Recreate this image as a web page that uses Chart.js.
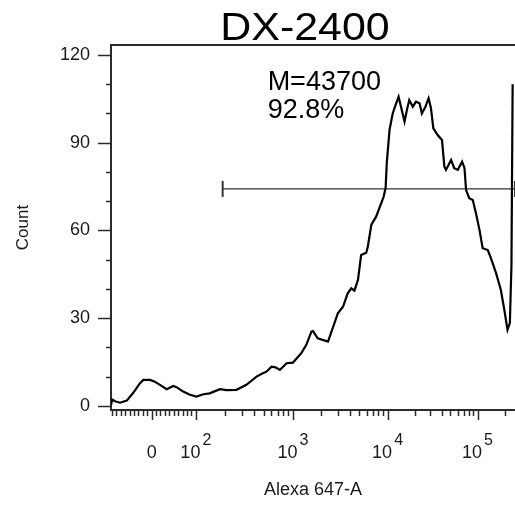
<!DOCTYPE html>
<html>
<head>
<meta charset="utf-8">
<script src="https://cdn.jsdelivr.net/npm/chart.js@4.4.0/dist/chart.umd.min.js"></script>
<style>
  html, body { margin: 0; padding: 0; background: #fff; overflow: hidden; }
  canvas { display: block; }
</style>
</head>
<body>
<canvas id="histChart" width="515" height="506"></canvas>
<script>
// histogram, x in display channels (0-1024 on the biexponential axis)
var channels = [0, 3, 10, 23, 40, 56, 73, 82, 99, 111, 124, 141, 158, 166, 183, 200, 217, 234, 250, 276,
  293, 318, 343, 369, 381, 394, 407, 417, 428, 445, 461, 482, 495, 508, 512, 524, 550, 562, 575, 588,
  600, 609, 617, 626, 634, 647, 651, 660, 672, 685, 691, 696, 699, 706, 714, 723, 729, 735, 744, 750,
  756, 765, 773, 782, 788, 797, 805, 811, 817, 828, 839, 845, 849, 862, 870, 879, 890, 896, 900, 908,
  917, 925, 934, 942, 955, 963, 976, 988, 997, 1005, 1011, 1015, 1018];
var counts = [0.3, 2.2, 1.6, 1.1, 1.8, 4.4, 7.7, 8.9, 8.9, 8.3, 7.2, 5.7, 6.8, 6.4, 4.9, 3.8, 3.2, 4.0, 4.3, 5.7,
  5.4, 5.5, 7.2, 10.0, 10.9, 11.7, 13.4, 13.2, 12.3, 14.6, 14.8, 18.0, 20.9, 25.4, 25.6, 23.1, 22.0, 26.6, 31.7, 33.9,
  38.5, 40.2, 39.4, 43.1, 51.6, 52.4, 54.5, 62.0, 64.7, 69.3, 71.5, 74.5, 83.0, 94.4, 100.0, 103.5, 105.7, 102.3, 97.2, 101.2,
  104.6, 102.3, 104.0, 103.5, 100.0, 102.3, 105.2, 101.8, 94.9, 92.6, 90.9, 81.8, 80.7, 84.1, 81.3, 80.7, 83.5, 81.3, 73.8, 71.0,
  70.4, 65.9, 60.2, 53.9, 53.3, 50.5, 45.4, 39.7, 32.8, 26.0, 28.3, 48.2, 110.0];

// x axis decades
var xMajorValues = [0, 100, 1000, 10000, 100000];
var xMajorChannels = [103, 215, 461, 701, 929];
var xMajorBase = ['0', '10', '10', '10', '10'];
var xMajorExp = ['', '2', '3', '4', '5'];

var yMajorTicks = [0, 30, 60, 90, 120];
var yMinorTicks = [10, 20, 40, 50, 70, 80, 100, 110];

// marker gate
var gateChannels = [283, 1024];
var gateCount = 74.2;
var gateText = ['M=43700', '92.8%'];

// linear around zero, log interpolation between the decade marks above 100
function valueToChannel(v) {
  if (v <= 100) return xMajorChannels[0] + v * (xMajorChannels[1] - xMajorChannels[0]) / 100;
  var lg = Math.log10(v);
  var k = Math.min(Math.floor(lg), 5);
  var i = k - 1;
  var c0 = xMajorChannels[i];
  var c1 = i + 1 < xMajorChannels.length ? xMajorChannels[i + 1] : c0 + (c0 - xMajorChannels[i - 1]);
  return c0 + (lg - k) * (c1 - c0);
}

var xMinorValues = [];
for (var n = -90; n <= 90; n += 10) if (n !== 0) xMinorValues.push(n);
for (var k = 2; k <= 4; k++) for (var m = 2; m <= 9; m++) xMinorValues.push(m * Math.pow(10, k));
xMinorValues.push(200000);

var histData = channels.map(function (c, i) { return { x: c, y: counts[i] }; });
var gateData = gateChannels.map(function (c) { return { x: c, y: gateCount }; });

var axisColor = '#2b2b2b';
var font = '"Liberation Sans", Arial, sans-serif';

var decorations = {
  id: 'decorations',
  afterDraw: function (chart) {
    var ctx = chart.ctx, area = chart.chartArea;
    var xs = chart.scales.x, ys = chart.scales.y;
    ctx.save();
    ctx.strokeStyle = axisColor;
    ctx.lineWidth = 2;
    ctx.beginPath();
    ctx.moveTo(area.left - 1, area.top);
    ctx.lineTo(area.right + 2, area.top);
    ctx.stroke();

    // tick marks
    ctx.lineWidth = 1.5;
    ctx.beginPath();
    yMajorTicks.forEach(function (v) {
      var y = Math.round(ys.getPixelForValue(v)) + 0.5;
      ctx.moveTo(area.left - 13, y); ctx.lineTo(area.left, y);
    });
    yMinorTicks.forEach(function (v) {
      var y = Math.round(ys.getPixelForValue(v)) + 0.5;
      ctx.moveTo(area.left - 5, y); ctx.lineTo(area.left, y);
    });
    xMajorValues.forEach(function (v) {
      var x = Math.round(xs.getPixelForValue(valueToChannel(v))) + 0.5;
      ctx.moveTo(x, area.bottom); ctx.lineTo(x, area.bottom + 10);
    });
    xMinorValues.forEach(function (v) {
      var x = Math.round(xs.getPixelForValue(valueToChannel(v))) + 0.5;
      ctx.moveTo(x, area.bottom); ctx.lineTo(x, area.bottom + 6);
    });
    ctx.stroke();

    // x tick labels with superscript exponents
    ctx.fillStyle = '#1a1a1a';
    ctx.textBaseline = 'alphabetic';
    ctx.textAlign = 'left';
    xMajorValues.forEach(function (v, i) {
      var x = xs.getPixelForValue(valueToChannel(v));
      ctx.font = '18px ' + font;
      var wb = ctx.measureText(xMajorBase[i]).width;
      ctx.font = '16px ' + font;
      var we = xMajorExp[i] ? ctx.measureText(xMajorExp[i]).width + 2 : 0;
      var x0 = x - (wb + we) / 2;
      ctx.font = '18px ' + font;
      ctx.fillText(xMajorBase[i], x0, 458);
      if (xMajorExp[i]) {
        ctx.font = '16px ' + font;
        ctx.fillText(xMajorExp[i], x0 + wb + 2, 445);
      }
    });

    // title
    ctx.fillStyle = '#000';
    ctx.font = '38px ' + font;
    ctx.textAlign = 'center';
    ctx.save();
    ctx.translate(305, 40);
    ctx.scale(1.13, 1);
    ctx.fillText('DX-2400', 0, 0);
    ctx.restore();

    // gate statistics
    ctx.font = '27px ' + font;
    ctx.textAlign = 'left';
    ctx.fillText(gateText[0], xs.getPixelForValue(397), ys.getPixelForValue(108));
    ctx.fillText(gateText[1], xs.getPixelForValue(397), ys.getPixelForValue(98.5));
    ctx.restore();
  }
};

var histChart = new Chart(document.getElementById('histChart'), {
  type: 'line',
  data: {
    datasets: [{
      label: 'Alexa 647-A',
      data: histData,
      borderColor: '#000',
      borderWidth: 2.2,
      pointRadius: 0,
      tension: 0,
      fill: false
    }, {
      label: 'gate',
      data: gateData,
      borderColor: '#333',
      borderWidth: 1.3,
      pointStyle: 'line',
      rotation: 90,
      pointRadius: 8,
      pointBorderWidth: 2,
      pointBorderColor: '#333'
    }]
  },
  options: {
    responsive: false,
    animation: false,
    devicePixelRatio: 1,
    layout: { autoPadding: false, padding: { top: 45, right: 0, left: 0, bottom: 0 } },
    plugins: {
      legend: { display: false },
      tooltip: { enabled: false },
      title: { display: false }
    },
    scales: {
      x: {
        type: 'linear',
        min: 0,
        max: 1024,
        afterFit: function (axis) { axis.height = 96; },
        afterBuildTicks: function (axis) { axis.ticks = []; },
        grid: { display: false, drawTicks: false },
        border: { display: true, color: axisColor, width: 2 },
        ticks: { display: false },
        title: {
          display: true,
          text: 'Alexa 647-A',
          color: '#1a1a1a',
          font: { family: font, size: 18 },
          padding: { top: 0, bottom: 5 }
        }
      },
      y: {
        type: 'linear',
        min: -1.4,
        max: 123.4,
        afterFit: function (axis) { axis.width = 111; },
        afterBuildTicks: function (axis) {
          axis.ticks = yMajorTicks.map(function (v) { return { value: v }; });
        },
        grid: { display: false, drawTicks: false },
        border: { display: true, color: axisColor, width: 2 },
        ticks: {
          color: '#1a1a1a',
          font: { family: font, size: 18 },
          padding: 21
        },
        title: {
          display: true,
          text: 'Count',
          color: '#1a1a1a',
          font: { family: font, size: 17 },
          padding: { top: 13, bottom: 0 }
        }
      }
    }
  },
  plugins: [decorations]
});
</script>
</body>
</html>
